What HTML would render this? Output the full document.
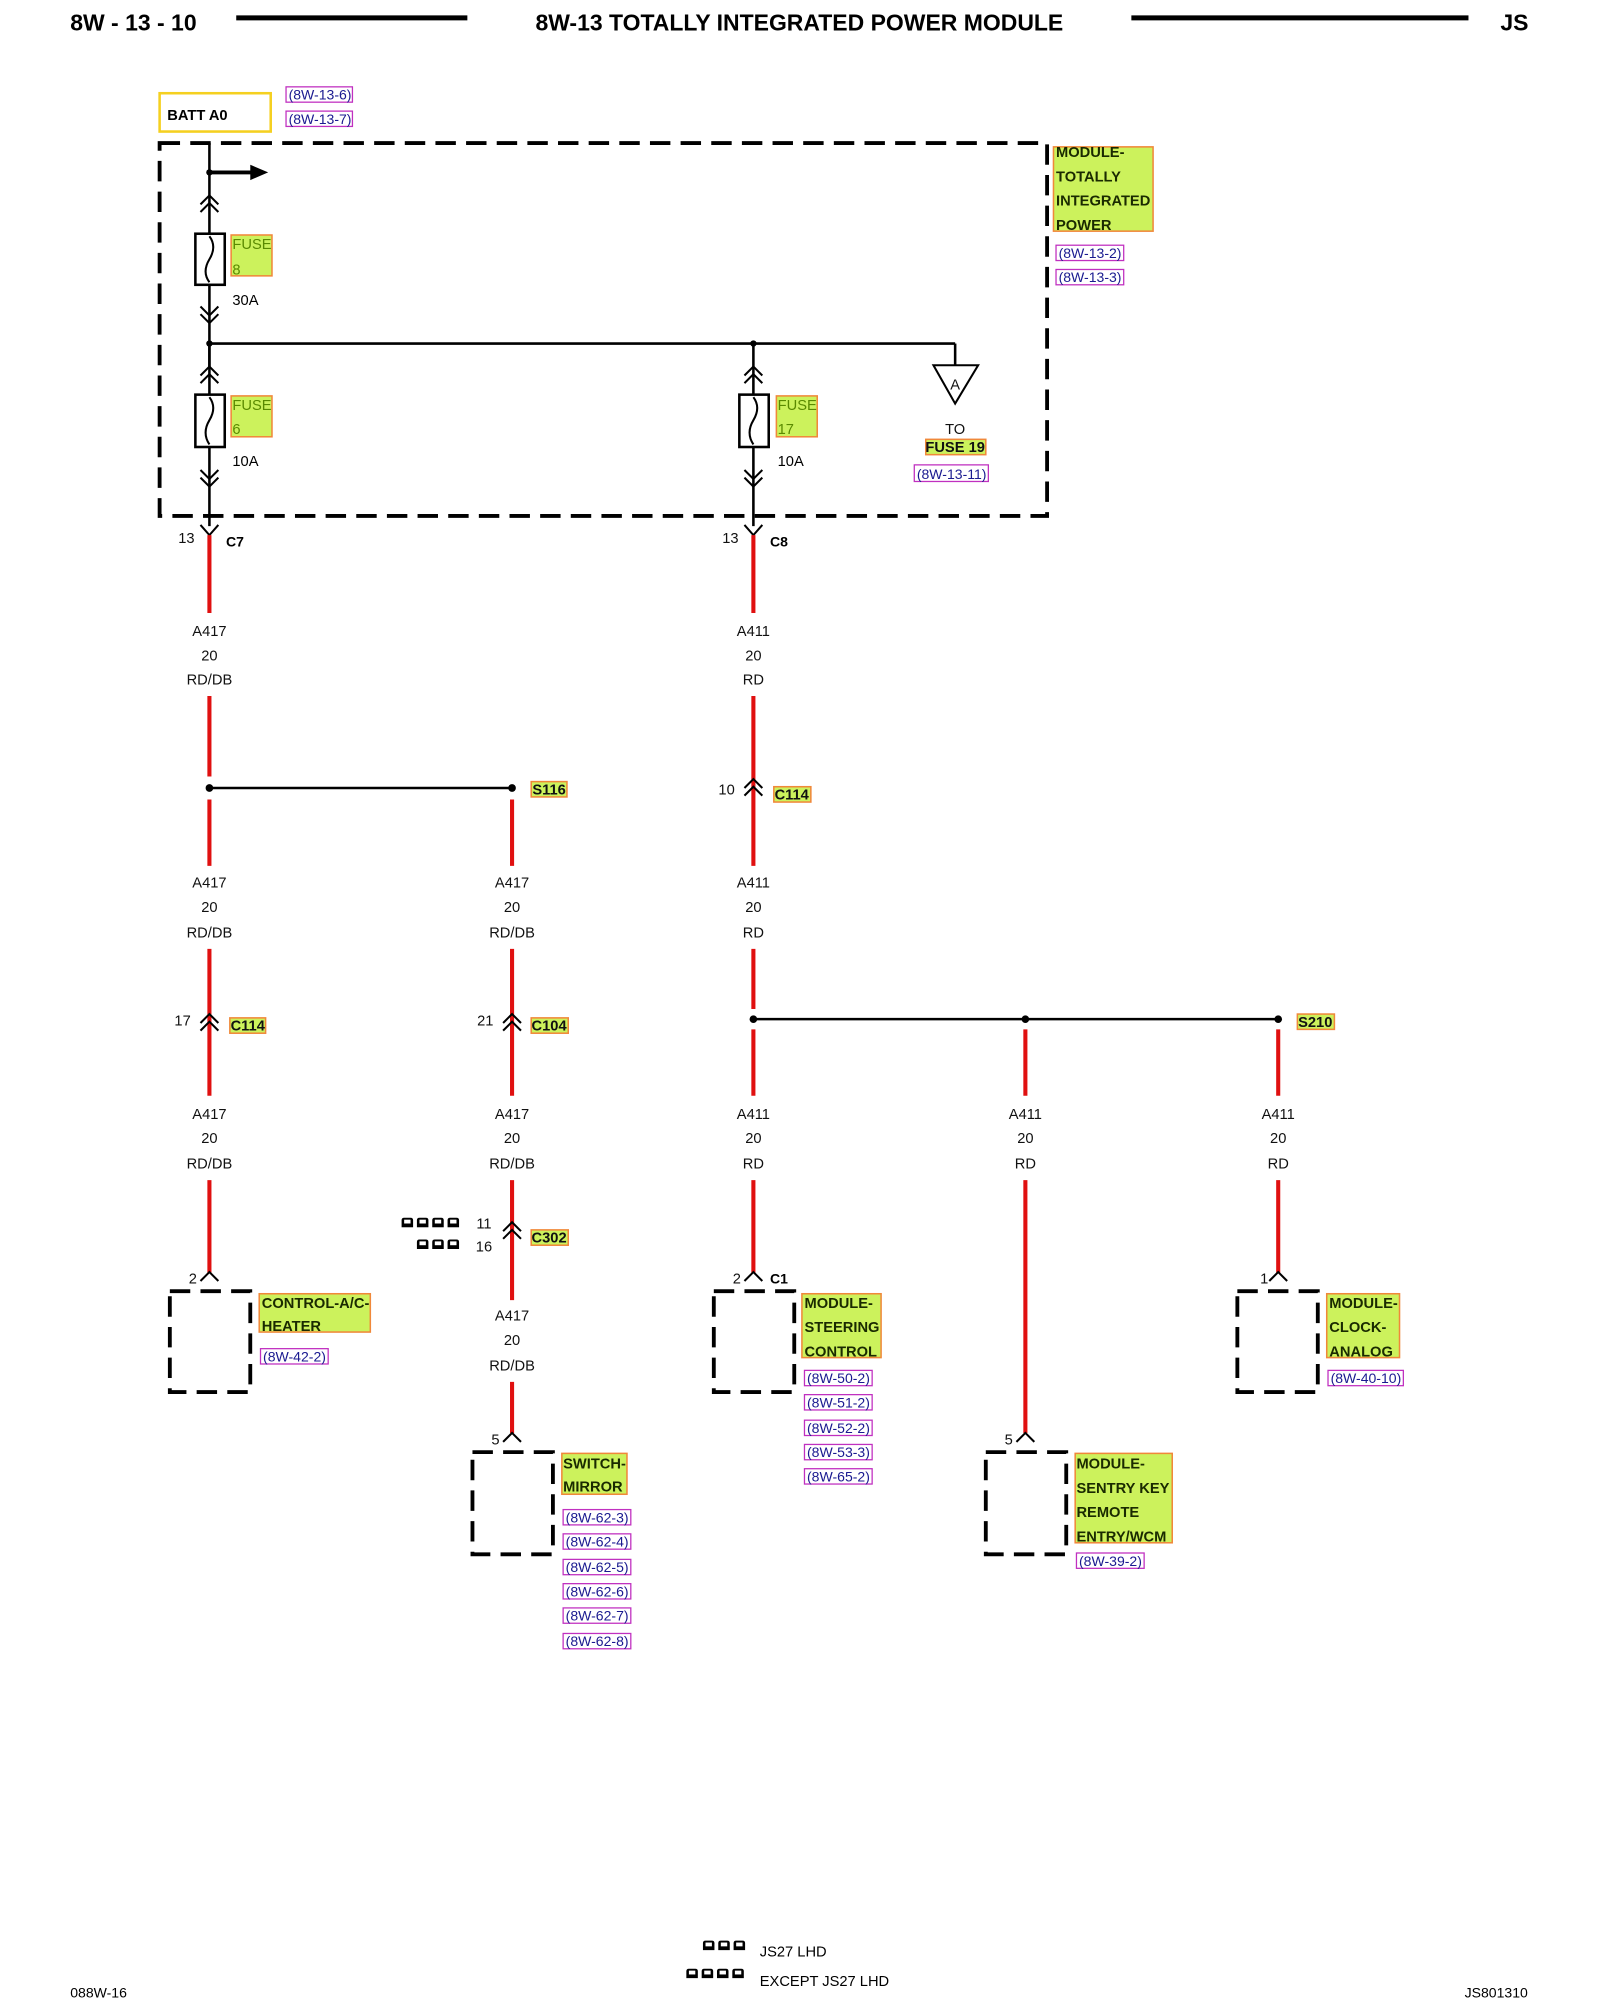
<!DOCTYPE html>
<html><head><meta charset="utf-8"><style>
html,body{margin:0;padding:0;background:#fff;}
svg{display:block;}
text{font-family:"Liberation Sans",sans-serif;}
.t{font-size:11.5px;fill:#111;text-anchor:middle;}
.b{font-weight:bold;}
.lb{fill:#ccf25c;stroke:#f0883a;stroke-width:1.2;}
.lt{font-size:11.5px;font-weight:bold;fill:#1a2a00;}
.fl{font-size:11.5px;fill:#5a8a00;}
.rf{fill:#fff;stroke:#c030c0;stroke-width:1;}
.rt{font-size:11px;fill:#1a1a90;}
.r{stroke:#e01010;stroke-width:3.2;fill:none;}
.k{stroke:#000;stroke-width:2;fill:none;}
.c{stroke:#000;stroke-width:1.6;fill:none;}
.db{stroke:#000;stroke-width:3;fill:none;stroke-dasharray:16,8;}
</style></head><body>
<svg width="1600" height="2000" viewBox="0 0 1253 1566" preserveAspectRatio="none" xmlns="http://www.w3.org/2000/svg">
<defs>
<symbol id="ic" viewBox="0 0 10 8" width="10" height="8"><path d="M0.5 8 L0.5 2.5 Q0.5 0.5 2.5 0.5 L7.5 0.5 Q9.5 0.5 9.5 2.5 L9.5 8 Z" fill="#000"/><rect x="2.5" y="2" width="5" height="3" fill="#fff"/></symbol>
</defs>
<!-- header -->
<text x="55" y="24" font-size="18" class="b">8W - 13 - 10</text>
<line x1="185" y1="14" x2="366" y2="14" stroke="#000" stroke-width="4"/>
<text x="626" y="24" font-size="18" class="b" text-anchor="middle">8W-13 TOTALLY INTEGRATED POWER MODULE</text>
<line x1="886" y1="14" x2="1150" y2="14" stroke="#000" stroke-width="4"/>
<text x="1175" y="24" font-size="18" class="b">JS</text>

<!-- BATT -->
<rect x="125" y="73" width="87" height="30" fill="#fff" stroke="#f5d020" stroke-width="2"/>
<text x="131" y="94" font-size="11.5" class="b">BATT A0</text>
<rect x="224" y="68" width="52" height="12" class="rf"/><text x="226" y="78" class="rt">(8W-13-6)</text>
<rect x="224" y="87" width="52" height="12" class="rf"/><text x="226" y="97" class="rt">(8W-13-7)</text>

<!-- dashed module box -->
<rect x="125" y="112" width="695" height="292" class="db"/>
<rect x="825" y="115" width="78" height="66" class="lb"/>
<text x="827" y="123" class="lt">MODULE-</text><text x="827" y="142" class="lt">TOTALLY</text><text x="827" y="161" class="lt">INTEGRATED</text><text x="827" y="180" class="lt">POWER</text>
<rect x="827" y="192" width="53" height="12" class="rf"/><text x="829" y="202" class="rt">(8W-13-2)</text>
<rect x="827" y="211" width="53" height="12" class="rf"/><text x="829" y="221" class="rt">(8W-13-3)</text>

<!-- left feed -->
<line x1="164" y1="112" x2="164" y2="183" class="k"/>
<circle cx="164" cy="135" r="2.5"/>
<line x1="164" y1="135" x2="198" y2="135" stroke="#000" stroke-width="3"/>
<path d="M196 129 L210 135 L196 141 Z"/>
<path d="M157 160 L164 153 L171 160 M157 166 L164 159 L171 166" class="c"/>
<rect x="153" y="183" width="23" height="40" fill="#fff" stroke="#000" stroke-width="2"/>
<path d="M164 185 Q170 193 164 203 Q158 213 164 221" class="c"/>
<rect x="181" y="184" width="32" height="32" class="lb"/><text x="182" y="195" class="fl">FUSE</text><text x="182" y="215" class="fl">8</text>
<text x="182" y="239" font-size="11.5">30A</text>
<line x1="164" y1="223" x2="164" y2="287" class="k"/>
<path d="M157 240 L164 247 L171 240 M157 246 L164 253 L171 246" class="c"/>
<line x1="164" y1="269" x2="748" y2="269" class="k"/>
<circle cx="164" cy="269" r="2.5"/><circle cx="590" cy="269" r="2.5"/>
<line x1="748" y1="269" x2="748" y2="286" class="k"/>
<path d="M731 286 L766 286 L748 316 Z" fill="#fff" stroke="#000" stroke-width="1.6"/>
<text x="748" y="305" class="t" font-size="10">A</text>
<text x="748" y="340" class="t">TO</text>
<rect x="725" y="344" width="47" height="12" class="lb"/><text x="748" y="354" class="t b" font-size="11">FUSE 19</text>
<rect x="716" y="364" width="58" height="13" class="rf"/><text x="718" y="375" class="rt">(8W-13-11)</text>

<!-- fuse 6 -->
<line x1="164" y1="269" x2="164" y2="412" class="k"/>
<path d="M157 294 L164 287 L171 294 M157 300 L164 293 L171 300" class="c"/>
<rect x="153" y="309" width="23" height="41" fill="#fff" stroke="#000" stroke-width="2"/>
<path d="M164 311 Q170 319 164 329 Q158 339 164 348" class="c"/>
<rect x="181" y="310" width="32" height="32" class="lb"/><text x="182" y="321" class="fl">FUSE</text><text x="182" y="340" class="fl">6</text>
<text x="182" y="365" font-size="11.5">10A</text>
<path d="M157 368 L164 375 L171 368 M157 374 L164 381 L171 374" class="c"/>
<!-- fuse 17 -->
<line x1="590" y1="269" x2="590" y2="412" class="k"/>
<path d="M583 294 L590 287 L597 294 M583 300 L590 293 L597 300" class="c"/>
<rect x="579" y="309" width="23" height="41" fill="#fff" stroke="#000" stroke-width="2"/>
<path d="M590 311 Q596 319 590 329 Q584 339 590 348" class="c"/>
<rect x="608" y="310" width="32" height="32" class="lb"/><text x="609" y="321" class="fl">FUSE</text><text x="609" y="340" class="fl">17</text>
<text x="609" y="365" font-size="11.5">10A</text>
<path d="M583 368 L590 375 L597 368 M583 374 L590 381 L597 374" class="c"/>

<!-- C7 / C8 -->
<path d="M157 411 L164 419 L171 411 M583 411 L590 419 L597 411" class="c"/>
<text x="146" y="425" class="t">13</text><text x="177" y="428" font-size="11" class="b">C7</text>
<text x="572" y="425" class="t">13</text><text x="603" y="428" font-size="11" class="b">C8</text>

<!-- left column -->
<line x1="164" y1="419" x2="164" y2="480" class="r"/>
<text x="164" y="498" class="t">A417</text><text x="164" y="517" class="t">20</text><text x="164" y="536" class="t">RD/DB</text>
<line x1="164" y1="545" x2="164" y2="608" class="r"/>
<line x1="164" y1="617" x2="401" y2="617" class="k"/>
<circle cx="164" cy="617" r="3"/><circle cx="401" cy="617" r="3"/>
<rect x="416" y="612" width="28" height="12" class="lb"/><text x="430" y="622" class="t b" font-size="10.5">S116</text>
<line x1="164" y1="626" x2="164" y2="678" class="r"/>
<line x1="401" y1="626" x2="401" y2="678" class="r"/>
<text x="164" y="695" class="t">A417</text><text x="164" y="714" class="t">20</text><text x="164" y="734" class="t">RD/DB</text>
<text x="401" y="695" class="t">A417</text><text x="401" y="714" class="t">20</text><text x="401" y="734" class="t">RD/DB</text>
<line x1="164" y1="743" x2="164" y2="858" class="r"/>
<path d="M157 801 L164 794 L171 801 M157 807 L164 800 L171 807" class="c"/>
<text x="143" y="803" class="t">17</text>
<rect x="180" y="797" width="28" height="12" class="lb"/><text x="194" y="807" class="t b" font-size="10.5">C114</text>
<line x1="401" y1="743" x2="401" y2="858" class="r"/>
<path d="M394 801 L401 794 L408 801 M394 807 L401 800 L408 807" class="c"/>
<text x="380" y="803" class="t">21</text>
<rect x="416" y="797" width="29" height="12" class="lb"/><text x="430" y="807" class="t b" font-size="10.5">C104</text>
<text x="164" y="876" class="t">A417</text><text x="164" y="895" class="t">20</text><text x="164" y="915" class="t">RD/DB</text>
<text x="401" y="876" class="t">A417</text><text x="401" y="895" class="t">20</text><text x="401" y="915" class="t">RD/DB</text>
<line x1="164" y1="924" x2="164" y2="997" class="r"/>
<path d="M157 1003 L164 996 L171 1003" class="c"/><text x="151" y="1005" class="t">2</text>
<line x1="401" y1="924" x2="401" y2="1018" class="r"/>
<path d="M394 964 L401 957 L408 964 M394 970 L401 963 L408 970" class="c"/>
<use href="#ic" x="314" y="953"/><use href="#ic" x="326" y="953"/><use href="#ic" x="338" y="953"/><use href="#ic" x="350" y="953"/>
<use href="#ic" x="326" y="970"/><use href="#ic" x="338" y="970"/><use href="#ic" x="350" y="970"/>
<text x="379" y="962" class="t">11</text><text x="379" y="980" class="t">16</text>
<rect x="416" y="963" width="29" height="12" class="lb"/><text x="430" y="973" class="t b" font-size="10.5">C302</text>
<text x="401" y="1034" class="t">A417</text><text x="401" y="1053" class="t">20</text><text x="401" y="1073" class="t">RD/DB</text>
<line x1="401" y1="1082" x2="401" y2="1122" class="r"/>
<path d="M394 1129 L401 1122 L408 1129" class="c"/><text x="388" y="1131" class="t">5</text>

<!-- right column -->
<line x1="590" y1="419" x2="590" y2="480" class="r"/>
<text x="590" y="498" class="t">A411</text><text x="590" y="517" class="t">20</text><text x="590" y="536" class="t">RD</text>
<line x1="590" y1="545" x2="590" y2="678" class="r"/>
<path d="M583 617 L590 610 L597 617 M583 623 L590 616 L597 623" class="c"/>
<text x="569" y="622" class="t">10</text>
<rect x="606" y="616" width="29" height="12" class="lb"/><text x="620" y="626" class="t b" font-size="10.5">C114</text>
<text x="590" y="695" class="t">A411</text><text x="590" y="714" class="t">20</text><text x="590" y="734" class="t">RD</text>
<line x1="590" y1="743" x2="590" y2="790" class="r"/>
<line x1="590" y1="798" x2="1001" y2="798" class="k"/>
<circle cx="590" cy="798" r="3"/><circle cx="803" cy="798" r="3"/><circle cx="1001" cy="798" r="3"/>
<rect x="1016" y="794" width="29" height="12" class="lb"/><text x="1030" y="804" class="t b" font-size="10.5">S210</text>
<line x1="590" y1="806" x2="590" y2="858" class="r"/>
<line x1="803" y1="806" x2="803" y2="858" class="r"/>
<line x1="1001" y1="806" x2="1001" y2="858" class="r"/>
<text x="590" y="876" class="t">A411</text><text x="590" y="895" class="t">20</text><text x="590" y="915" class="t">RD</text>
<text x="803" y="876" class="t">A411</text><text x="803" y="895" class="t">20</text><text x="803" y="915" class="t">RD</text>
<text x="1001" y="876" class="t">A411</text><text x="1001" y="895" class="t">20</text><text x="1001" y="915" class="t">RD</text>
<line x1="590" y1="924" x2="590" y2="997" class="r"/>
<path d="M583 1003 L590 996 L597 1003" class="c"/><text x="577" y="1005" class="t">2</text>
<text x="603" y="1005" font-size="11" class="b">C1</text>
<line x1="803" y1="924" x2="803" y2="1122" class="r"/>
<path d="M796 1129 L803 1122 L810 1129" class="c"/><text x="790" y="1131" class="t">5</text>
<line x1="1001" y1="924" x2="1001" y2="997" class="r"/>
<path d="M994 1003 L1001 996 L1008 1003" class="c"/><text x="990" y="1005" class="t">1</text>

<!-- components -->
<rect x="133" y="1011" width="63" height="79" class="db" stroke-dasharray="20,12"/>
<rect x="203" y="1013" width="87" height="30" class="lb"/>
<text x="205" y="1024" class="lt">CONTROL-A/C-</text><text x="205" y="1042" class="lt">HEATER</text>
<rect x="204" y="1056" width="53" height="12" class="rf"/><text x="206" y="1066" class="rt">(8W-42-2)</text>

<rect x="370" y="1137" width="63" height="80" class="db" stroke-dasharray="20,12"/>
<rect x="440" y="1138" width="51" height="32" class="lb"/>
<text x="441" y="1150" class="lt">SWITCH-</text><text x="441" y="1168" class="lt">MIRROR</text>
<rect x="441" y="1182" width="53" height="12" class="rf"/><text x="443" y="1192" class="rt">(8W-62-3)</text>
<rect x="441" y="1201" width="53" height="12" class="rf"/><text x="443" y="1211" class="rt">(8W-62-4)</text>
<rect x="441" y="1221" width="53" height="12" class="rf"/><text x="443" y="1231" class="rt">(8W-62-5)</text>
<rect x="441" y="1240" width="53" height="12" class="rf"/><text x="443" y="1250" class="rt">(8W-62-6)</text>
<rect x="441" y="1259" width="53" height="12" class="rf"/><text x="443" y="1269" class="rt">(8W-62-7)</text>
<rect x="441" y="1279" width="53" height="12" class="rf"/><text x="443" y="1289" class="rt">(8W-62-8)</text>

<rect x="559" y="1011" width="63" height="79" class="db" stroke-dasharray="20,12"/>
<rect x="628" y="1013" width="62" height="50" class="lb"/>
<text x="630" y="1024" class="lt">MODULE-</text><text x="630" y="1043" class="lt">STEERING</text><text x="630" y="1062" class="lt">CONTROL</text>
<rect x="630" y="1073" width="53" height="12" class="rf"/><text x="632" y="1083" class="rt">(8W-50-2)</text>
<rect x="630" y="1092" width="53" height="12" class="rf"/><text x="632" y="1102" class="rt">(8W-51-2)</text>
<rect x="630" y="1112" width="53" height="12" class="rf"/><text x="632" y="1122" class="rt">(8W-52-2)</text>
<rect x="630" y="1131" width="53" height="12" class="rf"/><text x="632" y="1141" class="rt">(8W-53-3)</text>
<rect x="630" y="1150" width="53" height="12" class="rf"/><text x="632" y="1160" class="rt">(8W-65-2)</text>

<rect x="772" y="1137" width="63" height="80" class="db" stroke-dasharray="20,12"/>
<rect x="842" y="1138" width="76" height="70" class="lb"/>
<text x="843" y="1150" class="lt">MODULE-</text><text x="843" y="1169" class="lt">SENTRY KEY</text><text x="843" y="1188" class="lt">REMOTE</text><text x="843" y="1207" class="lt">ENTRY/WCM</text>
<rect x="843" y="1216" width="53" height="12" class="rf"/><text x="845" y="1226" class="rt">(8W-39-2)</text>

<rect x="969" y="1011" width="63" height="79" class="db" stroke-dasharray="20,12"/>
<rect x="1039" y="1013" width="57" height="50" class="lb"/>
<text x="1041" y="1024" class="lt">MODULE-</text><text x="1041" y="1043" class="lt">CLOCK-</text><text x="1041" y="1062" class="lt">ANALOG</text>
<rect x="1040" y="1073" width="59" height="12" class="rf"/><text x="1042" y="1083" class="rt">(8W-40-10)</text>

<!-- footer -->
<use href="#ic" x="550" y="1519"/><use href="#ic" x="562" y="1519"/><use href="#ic" x="574" y="1519"/>
<text x="595" y="1532" font-size="11.5">JS27 LHD</text>
<use href="#ic" x="537" y="1541"/><use href="#ic" x="549" y="1541"/><use href="#ic" x="561" y="1541"/><use href="#ic" x="573" y="1541"/>
<text x="595" y="1555" font-size="11.5">EXCEPT JS27 LHD</text>
<text x="55" y="1564" font-size="11">088W-16</text>
<text x="1147" y="1564" font-size="11">JS801310</text>
</svg>
</body></html>
